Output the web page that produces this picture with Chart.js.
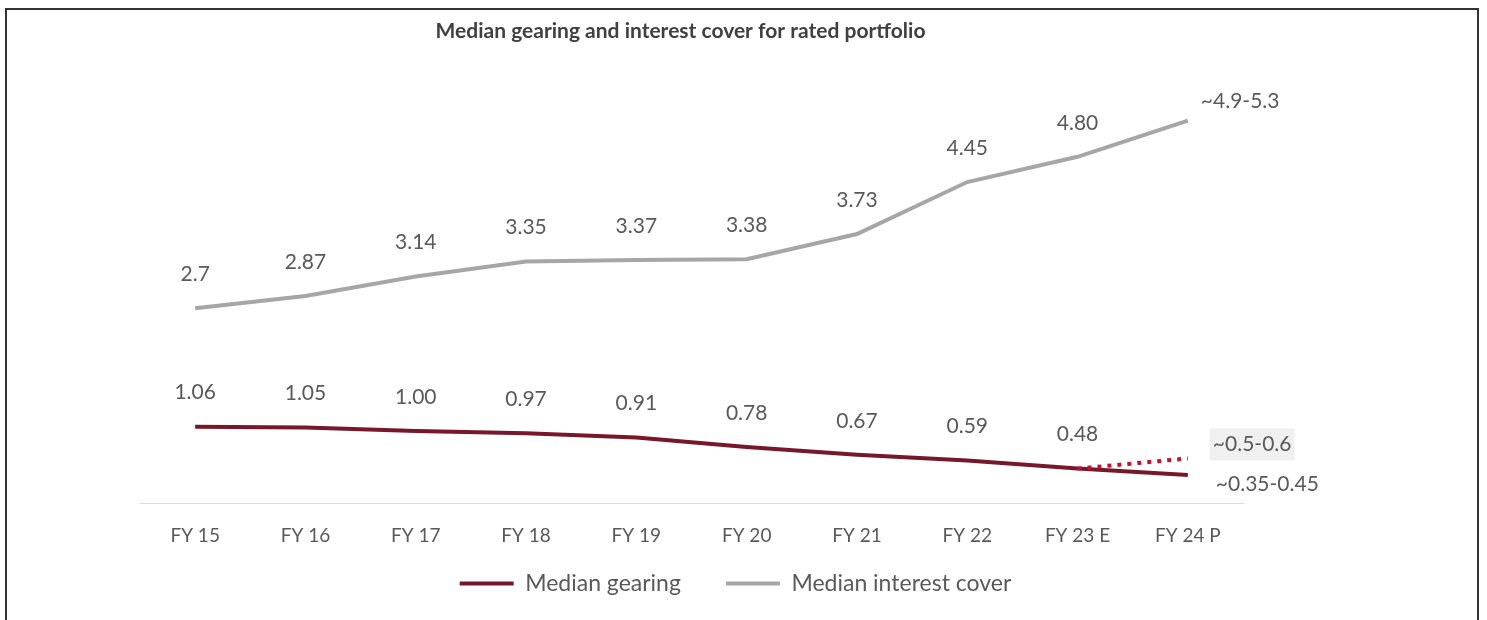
<!DOCTYPE html>
<html>
<head>
<meta charset="utf-8">
<script src="https://cdn.jsdelivr.net/npm/chart.js@4"></script>
<style>
  html, body { margin: 0; padding: 0; background: #ffffff; }
  #wrap { position: relative; width: 1487px; height: 620px; overflow: hidden; }
  #frame { position: absolute; left: 5px; top: 8px; width: 1474px; height: 700px;
           border: 2px solid #333333; box-sizing: border-box; }
  canvas { position: absolute; left: 0; top: 0; }
</style>
</head>
<body>
<div id="wrap">
  <div id="frame"></div>
  <canvas id="c" width="1487" height="620"></canvas>
</div>
<script>
// ---- data ----
const categories = ['FY 15','FY 16','FY 17','FY 18','FY 19','FY 20','FY 21','FY 22','FY 23 E','FY 24 P'];
const gearing = [1.06, 1.05, 1.00, 0.97, 0.91, 0.78, 0.67, 0.59, 0.48, 0.39];
const gearingHigh = [null, null, null, null, null, null, null, null, 0.48, 0.62];
const interestCover = [2.7, 2.87, 3.14, 3.35, 3.37, 3.38, 3.73, 4.45, 4.80, 5.3];
const gearingText = ['1.06','1.05','1.00','0.97','0.91','0.78','0.67','0.59','0.48','~0.35-0.45'];
const gearingHighText = ['','','','','','','','','','~0.5-0.6'];
const interestText = ['2.7','2.87','3.14','3.35','3.37','3.38','3.73','4.45','4.80','~4.9-5.3'];
const titleText = 'Median gearing and interest cover for rated portfolio';

const FONT = 'Lato, "Open Sans", sans-serif';
const TXT = '#595959';

const labelPlugin = {
  id: 'valueLabels',
  afterDatasetsDraw(chart) {
    const ctx = chart.ctx;
    ctx.save();
    ctx.font = '21px ' + FONT;
    ctx.fillStyle = TXT;
    ctx.textBaseline = 'middle';
    const draw = (dsIndex, texts, lastDx, lastDy, bg) => {
      const meta = chart.getDatasetMeta(dsIndex);
      meta.data.forEach((pt, i) => {
        const t = texts[i];
        if (!t) return;
        const last = i === texts.length - 1;
        if (last) {
          ctx.textAlign = 'left';
          const x = pt.x + lastDx, y = pt.y + lastDy;
          if (bg) {
            const w = ctx.measureText(t).width;
            ctx.fillStyle = '#f0f0f0';
            ctx.fillRect(x - 3, y - 16, w + 6, 32);
            ctx.fillStyle = TXT;
          }
          ctx.fillText(t, x, y);
        } else {
          ctx.textAlign = 'center';
          ctx.fillText(t, pt.x, pt.y - 34);
        }
      });
    };
    draw(0, gearingText, 28, 9, false);
    draw(2, interestText, 13, -19, false);
    draw(1, gearingHighText, 25, -14, true);
    ctx.restore();
  }
};

const shiftPlugin = {
  id: 'shiftBlocks',
  afterLayout(chart) {
    const t = chart.titleBlock;
    if (t) { t.left -= 11; t.right -= 11; }
    const l = chart.legend;
    if (l) { l.left += 44; l.right += 44; l.top -= 41; l.bottom -= 41; }
  }
};

new Chart(document.getElementById('c'), {
  type: 'line',
  data: {
    labels: categories,
    datasets: [
      { label: 'Median gearing', data: gearing, borderColor: '#76182a', backgroundColor: '#76182a',
        borderWidth: 4, pointRadius: 0, tension: 0, order: 2 },
      { label: 'gearing range', data: gearingHigh, borderColor: '#c0142e', backgroundColor: '#c0142e',
        borderWidth: 4, borderDash: [4, 6], borderCapStyle: 'butt', pointRadius: 0, tension: 0, order: 1 },
      { label: 'Median interest cover', data: interestCover, borderColor: '#a6a6a6', backgroundColor: '#a6a6a6',
        borderWidth: 4, pointRadius: 0, tension: 0, order: 3 }
    ]
  },
  options: {
    responsive: false,
    animation: false,
    layout: { padding: { left: 140, right: 244, top: 19, bottom: -26 } },
    scales: {
      x: {
        offset: true,
        grid: { display: false, drawTicks: false },
        border: { display: true, color: '#d9d9d9', width: 1 },
        ticks: { color: TXT, font: { family: FONT, size: 19 }, padding: 21 }
      },
      y: { display: false, min: 0, max: 6 }
    },
    plugins: {
      title: { display: true, text: titleText, color: '#404040',
               font: { family: FONT, size: 21, weight: 'bold', lineHeight: 1.2 },
               padding: { top: 0, bottom: 26 } },
      legend: {
        position: 'bottom',
        labels: {
          filter: (item) => item.datasetIndex !== 1,
          usePointStyle: true, pointStyle: 'line', pointStyleWidth: 54,
          color: TXT, font: { family: FONT, size: 23 }, padding: 45
        }
      },
      tooltip: { enabled: false }
    }
  },
  plugins: [labelPlugin, shiftPlugin]
});
</script>
</body>
</html>
